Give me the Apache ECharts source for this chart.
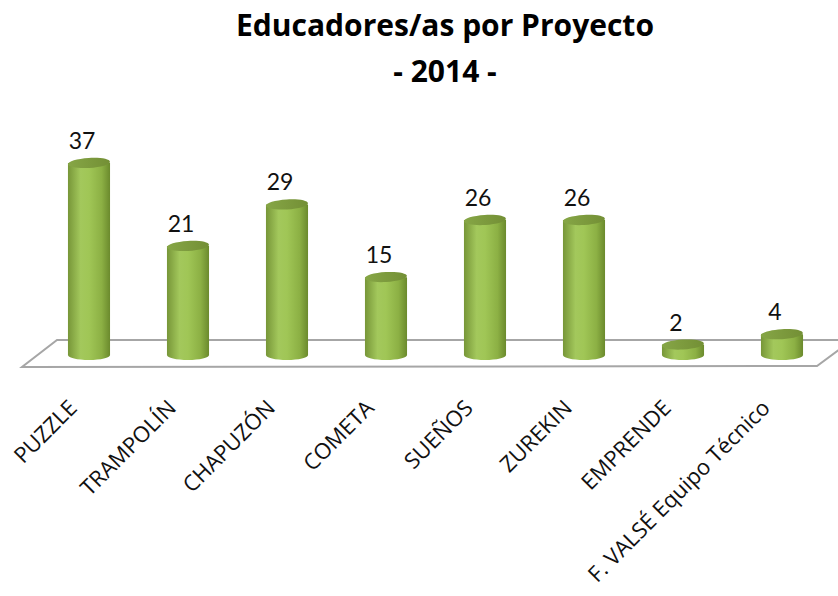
<!DOCTYPE html>
<html>
<head>
<meta charset="utf-8">
<script src="https://cdn.jsdelivr.net/npm/echarts@6/dist/echarts.min.js"></script>
<style>
html,body{margin:0;padding:0;background:#fff;}
#chart{width:838px;height:596px;}
</style>
</head>
<body>
<div id="chart"></div>
<script>
var titleMain = 'Educadores/as por Proyecto';
var titleSub = '- 2014 -';
var categories = ['PUZZLE', 'TRAMPOLÍN', 'CHAPUZÓN', 'COMETA', 'SUEÑOS', 'ZUREKIN', 'EMPRENDE', 'F. VALSÉ Equipo Técnico'];
var values = [37, 21, 29, 15, 26, 26, 2, 4];

var FONT = 'Lato, "Open Sans", sans-serif';
var FONT2 = '"Open Sans", Lato, sans-serif';
var chart = echarts.init(document.getElementById('chart'), null, {renderer: 'svg'});

var bodyGrad = new echarts.graphic.LinearGradient(0, 0, 1, 0, [
  {offset: 0, color: '#779638'},
  {offset: 0.3, color: '#a3c85c'},
  {offset: 0.5, color: '#a0c656'},
  {offset: 0.8, color: '#8cb044'},
  {offset: 1, color: '#6b8a2d'}
]);
var topGrad = new echarts.graphic.LinearGradient(0, 0, 1, 0, [
  {offset: 0, color: '#86a646'},
  {offset: 1, color: '#738f35'}
]);

chart.setOption({
  backgroundColor: '#ffffff',
  animation: false,
  title: [
    {text: titleMain, left: 440, top: 4, textAlign: 'center',
     textStyle: {fontFamily: FONT2, fontSize: 30, fontWeight: 'bold', color: '#000'}},
    {text: titleSub, left: 440, top: 50, textAlign: 'center',
     textStyle: {fontFamily: FONT2, fontSize: 30, fontWeight: 'bold', color: '#000'}}
  ],
  graphic: [{
    type: 'polygon', z: -10, silent: true,
    shape: {points: [[57, 340], [852, 340], [817, 366], [22, 367]]},
    style: {fill: '#ffffff', stroke: '#a6a6a6', lineWidth: 2}
  }],
  grid: [
    {left: 39.5, width: 792, top: 147.4, bottom: 241},
    {left: 22.5, width: 792, top: 147.4, bottom: 241}
  ],
  xAxis: [
    {type: 'category', data: categories, gridIndex: 0,
     axisLine: {show: false}, axisTick: {show: false}, axisLabel: {show: false}},
    {type: 'category', data: categories, gridIndex: 1,
     axisLine: {show: false}, axisTick: {show: false},
     axisLabel: {rotate: 45, margin: 48, interval: 0, fontFamily: FONT2, fontSize: 22, color: '#111'}}
  ],
  yAxis: [
    {type: 'value', min: 0, max: 40, gridIndex: 0, show: false},
    {type: 'value', min: 0, max: 40, gridIndex: 1, show: false}
  ],
  series: [{
    type: 'custom',
    xAxisIndex: 0, yAxisIndex: 0,
    data: values.map(function (v, i) { return [i, v]; }),
    renderItem: function (params, api) {
      var idx = api.value(0), v = api.value(1);
      var top = api.coord([idx, v]);
      var base = api.coord([idx, 0]);
      var w = api.size([1, 0])[0] * 0.425;
      var rx = w / 2, ry = 5;
      return {
        type: 'group',
        children: [
          {type: 'ellipse', shape: {cx: base[0], cy: base[1], rx: rx, ry: ry}, style: {fill: bodyGrad}},
          {type: 'rect', shape: {x: top[0] - rx, y: top[1], width: w, height: base[1] - top[1]}, style: {fill: bodyGrad}},
          {type: 'ellipse', shape: {cx: top[0], cy: top[1], rx: rx, ry: ry},
           rotation: 0.06, originX: top[0], originY: top[1], style: {fill: topGrad}},
          {type: 'text', style: {text: String(v), x: top[0] - 7, y: top[1] - 23, align: 'center', verticalAlign: 'middle',
            fontFamily: FONT, fontSize: 23, fill: '#111'}}
        ]
      };
    }
  }]
});
</script>
</body>
</html>
